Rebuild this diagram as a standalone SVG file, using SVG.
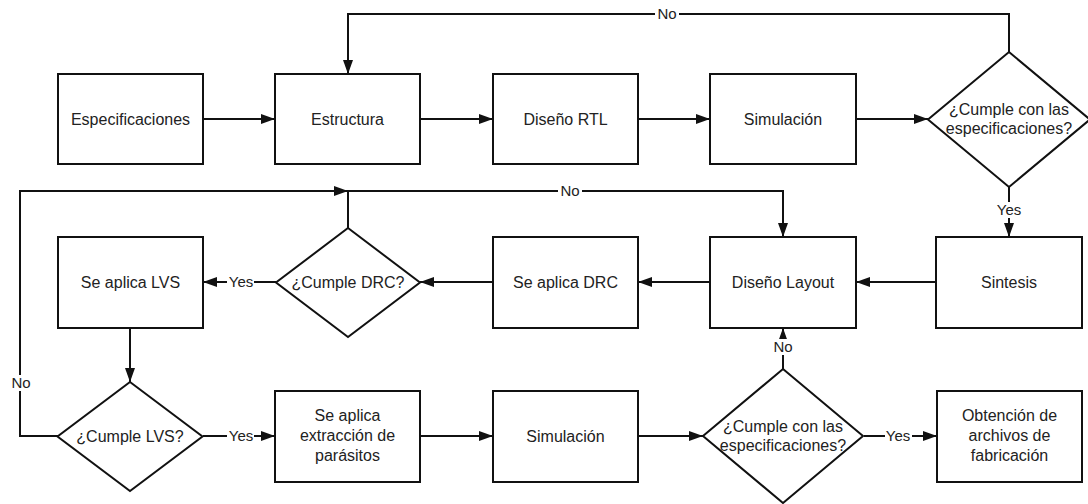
<svg xmlns="http://www.w3.org/2000/svg" width="1088" height="504" viewBox="0 0 1088 504">
  <style>
    .box { fill: #ffffff; stroke: #111111; stroke-width: 2; }
    .txt { font-family: "Liberation Sans", Arial, sans-serif; font-size: 16px; fill: #222222; text-anchor: middle; }
    .edge { fill: none; stroke: #111111; stroke-width: 2; }
    .lbl { font-family: "Liberation Sans", Arial, sans-serif; font-size: 15px; fill: #222222; text-anchor: middle; }
    .lblbg { fill: #ffffff; stroke: none; }
  </style>
  <defs>
    <marker id="arrow" markerUnits="userSpaceOnUse" markerWidth="14" markerHeight="10" refX="14" refY="5" orient="auto">
      <path d="M0,0 L14,5 L0,10 z" fill="#111111"/>
    </marker>
  </defs>
  <rect width="1088" height="504" fill="#ffffff"/>

  <!-- connectors -->
  <g id="connectors">
    <path class="edge" d="M203,119 H275" marker-end="url(#arrow)"/>
    <path class="edge" d="M420,119 H493" marker-end="url(#arrow)"/>
    <path class="edge" d="M638,119 H710" marker-end="url(#arrow)"/>
    <path class="edge" d="M856,119 H928" marker-end="url(#arrow)"/>
    <path class="edge" d="M1009,52 V14 H348 V74" marker-end="url(#arrow)"/>
    <path class="edge" d="M1009,187 V237" marker-end="url(#arrow)"/>
    <path class="edge" d="M936,282 H856" marker-end="url(#arrow)"/>
    <path class="edge" d="M710,282 H638" marker-end="url(#arrow)"/>
    <path class="edge" d="M493,282 H420" marker-end="url(#arrow)"/>
    <path class="edge" d="M276,282 H203" marker-end="url(#arrow)"/>
    <path class="edge" d="M348,228 V191 H783 V237" marker-end="url(#arrow)"/>
    <path class="edge" d="M130,328 V382" marker-end="url(#arrow)"/>
    <path class="edge" d="M58,436 H20 V191 H348" marker-end="url(#arrow)"/>
    <path class="edge" d="M203,436 H275" marker-end="url(#arrow)"/>
    <path class="edge" d="M420,436 H493" marker-end="url(#arrow)"/>
    <path class="edge" d="M638,436 H703" marker-end="url(#arrow)"/>
    <path class="edge" d="M783,369 V328" marker-end="url(#arrow)"/>
    <path class="edge" d="M864,436 H937" marker-end="url(#arrow)"/>

    <!-- edge labels -->
    <rect class="lblbg" x="655" y="6" width="24" height="16"/>
    <text class="lbl" x="667" y="19">No</text>
    <rect class="lblbg" x="995" y="202" width="28" height="16"/>
    <text class="lbl" x="1009" y="215">Yes</text>
    <rect class="lblbg" x="227" y="274" width="27" height="16"/>
    <text class="lbl" x="241" y="287">Yes</text>
    <rect class="lblbg" x="558" y="183" width="24" height="16"/>
    <text class="lbl" x="570" y="196">No</text>
    <rect class="lblbg" x="8" y="375" width="26" height="16"/>
    <text class="lbl" x="21" y="388">No</text>
    <rect class="lblbg" x="227" y="428" width="27" height="16"/>
    <text class="lbl" x="241" y="441">Yes</text>
    <rect class="lblbg" x="771" y="339" width="24" height="16"/>
    <text class="lbl" x="783" y="352">No</text>
    <rect class="lblbg" x="885" y="428" width="27" height="16"/>
    <text class="lbl" x="898" y="441">Yes</text>
  </g>

  <!-- top row -->
  <g id="especificaciones">
    <rect class="box" x="58" y="74" width="145" height="90"/>
    <text class="txt" x="130.5" y="124.5">Especificaciones</text>
  </g>
  <g id="estructura">
    <rect class="box" x="275" y="74" width="145" height="90"/>
    <text class="txt" x="347.5" y="124.5">Estructura</text>
  </g>
  <g id="diseno-rtl">
    <rect class="box" x="493" y="74" width="145" height="90"/>
    <text class="txt" x="565.5" y="124.5">Diseño RTL</text>
  </g>
  <g id="simulacion-1">
    <rect class="box" x="710" y="74" width="146" height="90"/>
    <text class="txt" x="783" y="124.5">Simulación</text>
  </g>
  <g id="cumple-especificaciones-1">
    <polygon class="box" points="1009,52 1090,119.5 1009,187 928,119.5"/>
    <text class="txt" x="1009" y="115">¿Cumple con las</text>
    <text class="txt" x="1009" y="134">especificaciones?</text>
  </g>

  <!-- middle row -->
  <g id="sintesis">
    <rect class="box" x="936" y="237" width="146" height="91"/>
    <text class="txt" x="1009" y="288">Sintesis</text>
  </g>
  <g id="diseno-layout">
    <rect class="box" x="710" y="237" width="146" height="91"/>
    <text class="txt" x="783" y="288">Diseño Layout</text>
  </g>
  <g id="se-aplica-drc">
    <rect class="box" x="493" y="237" width="145" height="91"/>
    <text class="txt" x="565.5" y="288">Se aplica DRC</text>
  </g>
  <g id="cumple-drc">
    <polygon class="box" points="348,228 420,282.5 348,337 276,282.5"/>
    <text class="txt" x="348" y="288">¿Cumple DRC?</text>
  </g>
  <g id="se-aplica-lvs">
    <rect class="box" x="58" y="237" width="145" height="91"/>
    <text class="txt" x="130.5" y="288">Se aplica LVS</text>
  </g>

  <!-- bottom row -->
  <g id="cumple-lvs">
    <polygon class="box" points="130,382 202.5,436.5 130,491 57.5,436.5"/>
    <text class="txt" x="130" y="442">¿Cumple LVS?</text>
  </g>
  <g id="extraccion-parasitos">
    <rect class="box" x="275" y="391" width="145" height="91"/>
    <text class="txt" x="347.5" y="421">Se aplica</text>
    <text class="txt" x="347.5" y="441">extracción de</text>
    <text class="txt" x="347.5" y="461">parásitos</text>
  </g>
  <g id="simulacion-2">
    <rect class="box" x="493" y="391" width="145" height="91"/>
    <text class="txt" x="565.5" y="442">Simulación</text>
  </g>
  <g id="cumple-especificaciones-2">
    <polygon class="box" points="783,369 863,436 783,503 703,436"/>
    <text class="txt" x="783" y="432">¿Cumple con las</text>
    <text class="txt" x="783" y="451">especificaciones?</text>
  </g>
  <g id="archivos-fabricacion">
    <rect class="box" x="937" y="391" width="145" height="91"/>
    <text class="txt" x="1009.5" y="421">Obtención de</text>
    <text class="txt" x="1009.5" y="441">archivos de</text>
    <text class="txt" x="1009.5" y="461">fabricación</text>
  </g>
</svg>
